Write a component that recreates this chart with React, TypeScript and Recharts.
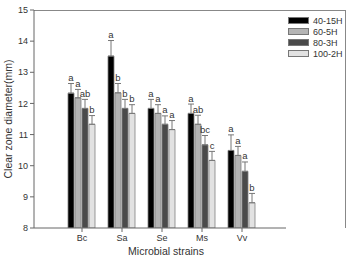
import React from 'react';
import {
  BarChart, Bar, XAxis, YAxis, ErrorBar, LabelList, Legend, Label
} from 'recharts';

// Strains on the x axis
const strains = ['Bc', 'Sa', 'Se', 'Ms', 'Vv'];

// Mean clear zone diameter (mm) per treatment
const h40 = [12.33, 13.52, 11.84, 11.68, 10.49];
const h60 = [12.18, 12.34, 11.68, 11.33, 10.33];
const h80 = [11.84, 11.84, 11.33, 10.67, 9.82];
const h100 = [11.33, 11.68, 11.16, 10.17, 8.81];

// Standard deviation (upper whisker only)
const e40 = [0.31, 0.5, 0.29, 0.3, 0.5];
const e60 = [0.27, 0.3, 0.28, 0.29, 0.29];
const e80 = [0.29, 0.29, 0.27, 0.3, 0.3];
const e100 = [0.28, 0.28, 0.29, 0.29, 0.3];

// Significance letters
const l40 = ['a', 'a', 'a', 'a', 'a'];
const l60 = ['a', 'b', 'a', 'ab', 'a'];
const l80 = ['ab', 'b', 'a', 'bc', 'a'];
const l100 = ['b', 'b', 'a', 'c', 'b'];

const yTicks = [8, 9, 10, 11, 12, 13, 14, 15];
const Y_MIN = 8;

const series = [
  { key: 's40', name: '40-15H', values: h40, errs: e40, letters: l40, color: '#000000' },
  { key: 's60', name: '60-5H', values: h60, errs: e60, letters: l60, color: '#b4b4b4' },
  { key: 's80', name: '80-3H', values: h80, errs: e80, letters: l80, color: '#4a4a4a' },
  { key: 's100', name: '100-2H', values: h100, errs: e100, letters: l100, color: '#e2e2e2' },
];

const data = strains.map((s, i) => {
  const row: any = { strain: s };
  series.forEach(se => {
    row[se.key] = se.values[i];
    row[se.key + 'Err'] = [0, se.errs[i]];
  });
  return row;
});

const FONT = '"Liberation Sans", Arial, sans-serif';

// letter sits just above the whisker cap
const letterContent = (errs: number[], letters: string[]) => (props: any) => {
  const { x, y, width, height, value, index } = props;
  const pxPerUnit = height / (value - Y_MIN);
  const top = y - errs[index] * pxPerUnit;
  return (
    <text x={x + width / 2} y={top - 2.5} textAnchor="middle" fontSize={9.5}
      fontFamily={FONT} fill="#333">
      {letters[index]}
    </text>
  );
};

const LegendBox = () => (
  <div style={{ fontFamily: FONT, fontSize: 9, color: '#333' }}>
    {series.map(se => (
      <div key={se.key} style={{ display: 'flex', alignItems: 'center', height: 11 }}>
        <div style={{ width: 19, height: 5, background: se.color, border: '1px solid #777', marginRight: 4 }} />
        <span>{se.name}</span>
      </div>
    ))}
  </div>
);

export default function App() {
  return (
    <div style={{ position: 'absolute', left: 0, top: 0, width: 348, height: 256, background: '#fff' }}>
      {/* top and right edges of the plot box */}
      <div style={{
        position: 'absolute', left: 34, top: 10, width: 312, height: 218,
        borderTop: '1px solid #888', borderRight: '1px solid #888', boxSizing: 'border-box',
      }} />
      <BarChart
        width={348}
        height={256}
        data={data}
        margin={{ top: 10, right: 2, bottom: 0, left: 0 }}
        barCategoryGap={6}
        barGap={1}
      >
        <XAxis
          dataKey="strain"
          height={28}
          padding={{ left: 28, right: 24 }}
          stroke="#666"
          tickSize={4}
          tickMargin={3}
          tick={{ fontSize: 9, fill: '#333', fontFamily: FONT }}
        >
          <Label value="Microbial strains" position="insideBottom" offset={1} dx={6}
            style={{ fontSize: 10.5, fill: '#333', fontFamily: FONT }} />
        </XAxis>
        <YAxis
          domain={[8, 15]}
          ticks={yTicks}
          width={34}
          stroke="#666"
          tickSize={4}
          tickMargin={2}
          allowDataOverflow
          tick={{ fontSize: 9, fill: '#333', fontFamily: FONT }}
        >
          <Label value="Clear zone diameter(mm)" angle={-90} position="center" dx={-9}
            style={{ fontSize: 10.5, fill: '#333', fontFamily: FONT, textAnchor: 'middle' }} />
        </YAxis>
        <Legend
          layout="vertical"
          verticalAlign="top"
          align="right"
          content={<LegendBox />}
          wrapperStyle={{ top: 15, left: 288, width: 60 }}
        />
        {series.map(se => (
          <Bar
            key={se.key}
            dataKey={se.key}
            name={se.name}
            fill={se.color}
            stroke="#808080"
            strokeWidth={0.8}
            isAnimationActive={false}
          >
            <ErrorBar dataKey={se.key + 'Err'} direction="y" width={3} stroke="#777" strokeWidth={1} />
            <LabelList dataKey={se.key} content={letterContent(se.errs, se.letters)} />
          </Bar>
        ))}
      </BarChart>
    </div>
  );
}
